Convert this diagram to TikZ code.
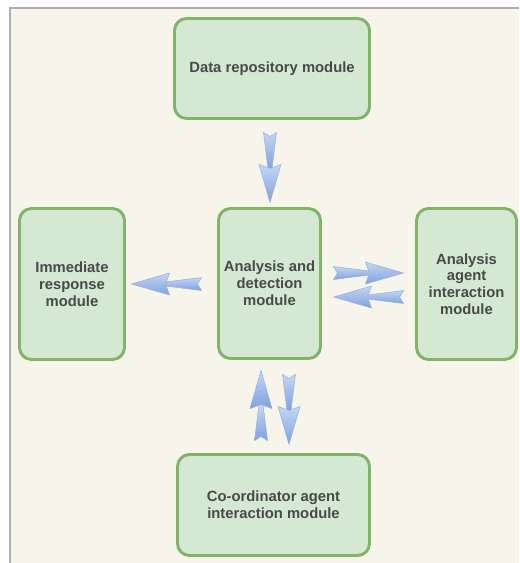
\documentclass[tikz,border=0pt]{standalone}
\usepackage{fontspec}
\setmainfont{Liberation Sans}
\usetikzlibrary{calc}

\definecolor{pagebg}{RGB}{247,244,236}
\definecolor{pageline}{RGB}{175,175,175}
\definecolor{boxfill}{RGB}{213,232,212}
\definecolor{boxline}{RGB}{130,179,102}
\definecolor{boxtext}{RGB}{72,74,72}
\definecolor{arrowlight}{RGB}{196,214,242}
\definecolor{arrowdark}{RGB}{128,162,222}
\definecolor{arrowline}{RGB}{150,178,226}

\tikzset{
  module/.style={draw=boxline, fill=boxfill, line width=2.2pt, rounded corners=9pt,
    align=center, text=boxtext, font=\bfseries\fontsize{11.1}{12.6}\selectfont},
  dblarrow/.pic={
    % tail piece
    \draw [arrowline, line width=0.4pt, top color=arrowlight, bottom color=arrowdark]
      (0,6.5) -- (36,2) -- (36,-2) -- (0,-6.5) -- (4,0) -- cycle ;
    % head piece
    \draw [arrowline, line width=0.4pt, top color=arrowlight, bottom color=arrowdark]
      (32,11) -- (70,0) -- (32,-11) -- (36,0) -- cycle ;
  }
}

\begin{document}
\begin{tikzpicture}[x=0.75pt,y=0.75pt,yscale=-1,xscale=1]
\useasboundingbox (0,0) rectangle (519,563);

%Shape: page background
\fill [pagebg] (10,8) rectangle (519,563);
\draw [pageline, line width=0.8pt] (10,563) -- (10,8) -- (519,8);

%Shape: modules
\node [module, minimum width=146.25pt, minimum height=75pt] (data) at (272,68.5) {Data repository module};
\node [module, minimum width=78.75pt, minimum height=113.25pt] (immediate) at (72,284) {Immediate\\response\\module};
\node [module, minimum width=76.5pt, minimum height=112.5pt] (analysis) at (269.5,283.5) {Analysis and\\detection\\module};
\node [module, minimum width=75pt, minimum height=113.25pt] (agent) at (466.5,284) {Analysis\\agent\\interaction\\module};
\node [module, minimum width=144pt, minimum height=75.75pt] (coord) at (273.5,505) {Co-ordinator agent\\interaction module};

%Shape: double arrows
\pic [rotate=-90] at ($(data.south)+(-2,12.5)$) {dblarrow};
\pic [rotate=180] at ($(analysis.west)+(-15.5,0.5)$) {dblarrow};
\pic [rotate=0] at ($(analysis.east)+(11.5,-10.5)$) {dblarrow};
\pic [rotate=180] at ($(agent.west)+(-11.5,13)$) {dblarrow};
\pic [rotate=90] at ($(coord.north)+(-12.5,-12.5)$) {dblarrow};
\pic [rotate=-90] at ($(analysis.south)+(19.5,14.5)$) {dblarrow};

\end{tikzpicture}
\end{document}
